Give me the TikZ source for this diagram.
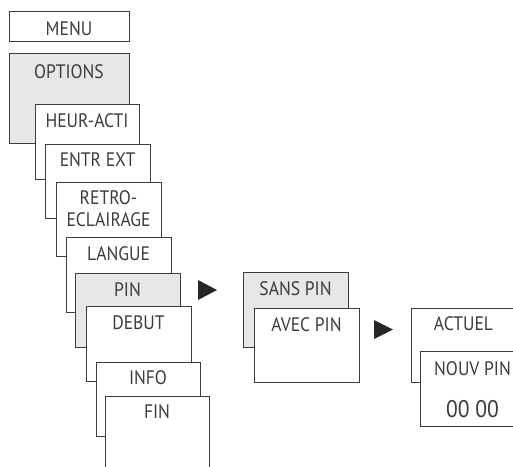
\documentclass[tikz,border=0pt]{standalone}
\usepackage{fontspec}
\setmainfont{PT Sans}[FakeStretch=0.9]
\usepackage{tikz}
\usetikzlibrary{positioning}
\definecolor{menugray}{RGB}{230,231,233}
\definecolor{menuline}{RGB}{60,60,60}
\tikzset{
	menubox/.style={draw=menuline, line width=0.9pt, anchor=north west, inner sep=0pt, outer sep=0pt},
	boxtext/.style={anchor=base, inner sep=0pt, text=menuline, font=\fontsize{19.5}{21}\selectfont},
	bigtext/.style={boxtext, font=\fontsize{24}{26}\selectfont}
}
% name, x, y, width, height, fill
\newcommand{\menuBox}[6]{
	\node[menubox, fill=#6, minimum width=#4pt, minimum height=#5pt] (#1) at (#2,#3) {};
}
% name, text
\newcommand{\boxTitle}[2]{
	\node[boxtext] (#1-title) at ([yshift=-23pt]#1.north) {#2};
}

\begin{document}
\begin{tikzpicture}[x=1pt, y=-1pt]
	\useasboundingbox (0,0) rectangle (513,466);
	\clip (0,0) rectangle (513,466);
	% main menu
	\menuBox{menu}{9}{11}{120}{30}{white}
	\node[boxtext] (menu-title) at ([yshift=-24pt]menu.north) {MENU};
	\menuBox{options}{9}{53}{120}{90}{menugray}
	\node[boxtext] (options-title) at ([yshift=-25pt]options.north) {OPTIONS};
	% options list
	\menuBox{heur}{35}{104}{104}{75}{white}
	\boxTitle{heur}{HEUR-ACTI}
	\menuBox{entr}{45}{144}{105}{74}{white}
	\node[boxtext] (entr-title) at ([yshift=-22pt]entr.north) {ENTR EXT};
	\menuBox{retro}{56}{182}{105}{74}{white}
	\node[boxtext] (retro-title) at ([yshift=-22pt]retro.north) {RETRO-};
	\node[boxtext] (retro-title2) at ([yshift=-44pt]retro.north) {ECLAIRAGE};
	\menuBox{langue}{66}{237}{105}{75}{white}
	\boxTitle{langue}{LANGUE}
	\menuBox{pin}{75}{273}{105}{74}{menugray}
	\boxTitle{pin}{PIN}
	\menuBox{debut}{86}{306}{105}{75}{white}
	\boxTitle{debut}{DEBUT}
	\menuBox{info}{96}{362}{104}{74}{white}
	\node[boxtext] (info-title) at ([yshift=-22pt]info.north) {INFO};
	\menuBox{fin}{105}{396}{104}{90}{white}
	\node[boxtext] (fin-title) at ([yshift=-22pt]fin.north) {FIN};
	% PIN submenu
	\fill[black!85] (198,280) -- (198,300) -- (217,290) -- cycle;
	\menuBox{sans}{243}{272}{105}{75}{menugray}
	\boxTitle{sans}{SANS PIN}
	\menuBox{avec}{254}{308}{105}{74}{white}
	\boxTitle{avec}{AVEC PIN}
	% new PIN
	\fill[black!85] (374,320) -- (374,339) -- (393,329.5) -- cycle;
	\menuBox{actuel}{411}{308}{105}{74}{white}
	\node[boxtext] (actuel-title) at ([yshift=-22pt]actuel.north) {ACTUEL};
	\menuBox{nouv}{420}{351}{105}{75}{white}
	\node[boxtext] (nouv-title) at ([yshift=-24pt]nouv.north) {NOUV PIN};
	\node[bigtext] (nouv-code) at ([yshift=-66pt]nouv.north) {00 00};
\end{tikzpicture}
\end{document}
